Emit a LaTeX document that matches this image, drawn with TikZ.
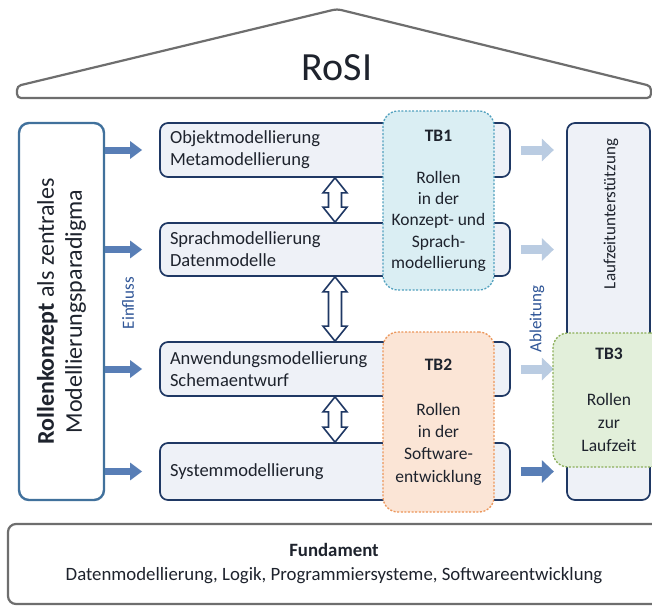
\documentclass[tikz,border=0pt]{standalone}
\usepackage{fontspec}
\setmainfont{Carlito}
\usetikzlibrary{arrows.meta,calc}
\definecolor{navy}{RGB}{31,56,100}
\definecolor{boxfill}{RGB}{238,241,247}
\definecolor{steel}{RGB}{65,113,156}
\definecolor{einflblue}{RGB}{88,126,182}
\definecolor{abllight}{RGB}{186,204,226}
\definecolor{lblblue}{RGB}{47,85,151}
\definecolor{roofgray}{RGB}{110,110,110}
\definecolor{tbonefill}{RGB}{218,238,243}
\definecolor{tbonedraw}{RGB}{80,160,190}
\definecolor{tbtwofill}{RGB}{251,229,214}
\definecolor{tbtwodraw}{RGB}{236,150,90}
\definecolor{tbthreefill}{RGB}{226,239,218}
\definecolor{tbthreedraw}{RGB}{140,175,90}
\definecolor{txtdark}{RGB}{30,35,45}
\begin{document}
\begin{tikzpicture}[x=1pt,y=-1pt,
  roof/.style={draw=roofgray,line width=2.2pt,rounded corners=4pt,fill=white},
  leftbox/.style={draw=steel,line width=2.4pt,rounded corners=10pt,fill=white,minimum width=85pt,minimum height=377pt,inner sep=0pt},
  mbox/.style={draw=navy,line width=1.7pt,rounded corners=8pt,fill=boxfill,minimum width=350pt,text width=330pt,inner xsep=10pt,inner ysep=0pt,align=left,text=txtdark,font=\fontsize{18.5}{22}\selectfont},
  tbbox/.style={line width=1.3pt,dash pattern=on 2pt off 1.6pt,rounded corners=15pt,inner sep=0pt,align=center,text=txtdark},
  rbox/.style={draw=navy,line width=1.7pt,rounded corners=8pt,fill=boxfill,minimum width=83pt,minimum height=377pt,inner sep=0pt},
  fbox/.style={draw=roofgray,line width=2.2pt,rounded corners=8pt,fill=white,minimum width=652pt,minimum height=80pt,inner sep=0pt,align=center,text=txtdark,font=\fontsize{18.8}{24}\selectfont},
  einfl/.style={einflblue,line width=7pt,-{Triangle[length=12pt,width=17pt]}},
  ablarrow/.style={line width=9pt,-{Triangle[length=12pt,width=22pt]}},
  dblarr/.style={draw=navy,line width=1.6pt,fill=white,line join=miter},
  lbl/.style={text=lblblue,font=\fontsize{17}{19}\selectfont,inner sep=0pt}]
\clip (0,0) rectangle (652,605);
\fill[white] (0,0) rectangle (652,605);
% roof
\draw[roof] (17,98) -- (17,86) -- (337,9) -- (651,86) -- (651,98) -- cycle;
\node[font=\fontsize{40}{44}\selectfont,text=txtdark] (rosi) at (337,68) {RoSI};
% left box
\node[leftbox] (L) at (61.5,311.5) {};
\node[rotate=90,align=center,text=txtdark,font=\fontsize{24}{28}\selectfont] (Ltxt) at (L.center) {\textbf{Rollenkonzept} als zentrales\\Modellierungsparadigma};
% middle boxes
\node[mbox,minimum height=54pt] (b1) at (335,150) {Objektmodellierung\\Metamodellierung};
\node[mbox,minimum height=53pt] (b2) at (335,249.5) {Sprachmodellierung\\Datenmodelle};
\node[mbox,minimum height=54pt] (b3) at (335,369) {Anwendungsmodellierung\\Schemaentwurf};
\node[mbox,minimum height=57pt] (b4) at (335,471.5) {Systemmodellierung};
% double arrows
\newcommand{\hollowdbl}[2]{%
\draw[dblarr] (#1.south) -- ($(#1.south)+(12,15)$) -- ($(#1.south)+(6.5,15)$)
  -- ($(#2.north)+(6.5,-15)$) -- ($(#2.north)+(12,-15)$) -- (#2.north)
  -- ($(#2.north)+(-12,-15)$) -- ($(#2.north)+(-6.5,-15)$)
  -- ($(#1.south)+(-6.5,15)$) -- ($(#1.south)+(-12,15)$) -- cycle;}
\hollowdbl{b1}{b2}
\hollowdbl{b2}{b3}
\hollowdbl{b3}{b4}
% Einfluss arrows
\draw[einfl] (L.east |- b1) -- ([xshift=-17pt]b1.west);
\draw[einfl] (L.east |- b2) -- ([xshift=-17pt]b2.west);
\draw[einfl] (L.east |- b3) -- ([xshift=-17pt]b3.west);
\draw[einfl] (L.east |- b4) -- ([xshift=-17pt]b4.west);
\node[lbl,rotate=90] (einfluss) at (128,303) {Einfluss};
% TB1, TB2
\node[tbbox,draw=tbonedraw,fill=tbonefill,minimum width=111pt,minimum height=179pt,font=\fontsize{17.5}{21.2}\selectfont] (tb1) at (438.5,200.5)
  {\textbf{TB1}\\[21.2pt]Rollen\\in der\\Konzept- und\\Sprach-\\modellierung};
\node[tbbox,draw=tbtwodraw,fill=tbtwofill,minimum width=111pt,minimum height=180pt,font=\fontsize{17.5}{22.4}\selectfont] (tb2) at (438.5,422)
  {\textbf{TB2}\\[22.4pt]Rollen\\in der\\Software-\\entwicklung};
% right box
\node[rbox] (R) at (608.5,311.5) {};
\node[rotate=90,text=txtdark,font=\fontsize{17}{20}\selectfont,inner sep=0pt] (Rtxt) at (611,214) {Laufzeitunterstützung};
% Ableitung arrows
\draw[ablarrow,abllight] ([xshift=10pt]b1.east) -- ([xshift=43pt]b1.east);
\draw[ablarrow,abllight] ([xshift=10pt]b2.east) -- ([xshift=43pt]b2.east);
\draw[ablarrow,abllight] ([xshift=10pt]b3.east) -- ([xshift=43pt]b3.east);
\draw[ablarrow,einflblue] ([xshift=10pt]b4.east) -- ([xshift=43pt]b4.east);
\node[lbl,rotate=90] (ableitung) at (537,319) {Ableitung};
% TB3
\node[tbbox,draw=tbthreedraw,fill=tbthreefill,minimum width=112pt,minimum height=134pt,font=\fontsize{17.5}{23}\selectfont] (tb3) at (609,400)
  {\textbf{TB3}\\[23pt]Rollen\\zur\\Laufzeit};
% Fundament
\node[fbox] (F) at (334,564) {\textbf{Fundament}\\Datenmodellierung, Logik, Programmiersysteme, Softwareentwicklung};
\end{tikzpicture}
\end{document}
